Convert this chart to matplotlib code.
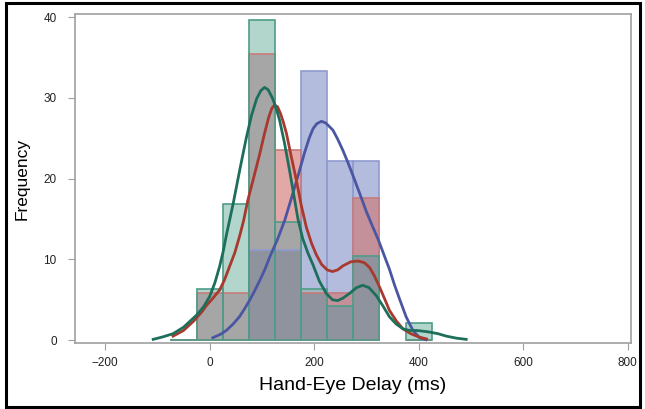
import matplotlib
matplotlib.use("Agg")
import matplotlib.pyplot as plt
from matplotlib.patches import Rectangle

plt.rcParams['font.family'] = ['Liberation Sans', 'DejaVu Sans']

# histogram bins (centres, width 50 ms)
bins = [-50, 0, 50, 100, 150, 200, 250, 300, 400]
green = [0, 6.3, 16.8, 39.7, 14.6, 6.3, 4.2, 10.4, 2.1]
red = [0, 5.9, 5.9, 35.4, 23.5, 5.9, 5.9, 17.6, 0]
blue = [0, 0, 0, 11.2, 11.2, 33.3, 22.2, 22.2, 0]

# density curves
green_x = [-108, -90, -70, -50, -25, -12, 0, 10, 19, 26, 32, 45, 58, 70, 80, 90, 98, 105,
           112, 120, 127, 134, 143, 153, 161, 169, 178, 188, 198, 210, 223, 235, 245, 255,
           268, 281, 293, 305, 319, 332, 344, 357, 370, 383, 396, 410, 421, 437, 453, 472, 491]
green_y = [0.1, 0.4, 0.8, 1.6, 3.1, 4.1, 5.4, 7.1, 9.1, 11.0, 13.0, 16.9, 21.2, 25.0, 27.8,
           29.9, 30.9, 31.3, 31.0, 30.0, 28.8, 27.2, 24.5, 21.0, 18.0, 15.0, 12.6, 10.8, 9.3,
           7.3, 5.8, 5.0, 4.9, 5.2, 5.8, 6.5, 6.8, 6.5, 5.5, 4.2, 2.9, 2.0, 1.4, 1.2, 1.2, 1.1,
           1.0, 0.8, 0.5, 0.25, 0.1]
red_x = [-70, -50, -30, -15, -6, 5, 19, 28, 38, 48, 57, 65, 73, 85, 96, 105, 113, 119, 124,
         130, 136, 141, 147, 156, 166, 175, 185, 195, 204, 214, 225, 235, 245, 255, 270, 284,
         296, 306, 315, 325, 335, 344, 357, 370, 385, 400, 415]
red_y = [0.5, 1.2, 2.4, 3.5, 4.3, 5.1, 6.2, 7.4, 9.1, 10.8, 12.8, 14.8, 17.3, 20.3, 23.1,
         25.6, 27.6, 28.7, 29.1, 28.9, 28.0, 27.0, 25.6, 22.8, 19.8, 16.8, 14.0, 12.0, 10.6,
         9.4, 8.7, 8.5, 8.7, 9.2, 9.7, 9.8, 9.6, 9.0, 8.0, 6.6, 5.1, 3.7, 2.4, 1.4, 0.8, 0.4,
         0.15]
blue_x = [6, 20, 32, 45, 57, 67, 77, 86, 96, 106, 115, 130, 144, 158, 172, 182, 191, 198,
          205, 214, 222, 230, 236, 245, 255, 264, 273, 287, 300, 311, 323, 334, 344, 354,
          364, 376, 389, 402, 414]
blue_y = [0.3, 0.7, 1.2, 2.0, 2.9, 3.9, 5.0, 6.1, 7.4, 8.8, 10.3, 12.5, 14.9, 17.9, 21.0,
          23.3, 25.1, 26.2, 26.8, 27.1, 26.9, 26.4, 26.0, 24.9, 23.5, 22.1, 20.6, 18.2, 15.9,
          14.2, 12.4, 10.5, 8.8, 6.8, 5.0, 2.9, 1.2, 0.3, 0.05]

fill = {
    frozenset('g'): '#b2d5cc',
    frozenset('r'): '#e4a7a7',
    frozenset('b'): '#b3bcdc',
    frozenset('rg'): '#a6a6a6',
    frozenset('bg'): '#a3b5bf',
    frozenset('br'): '#c4909a',
    frozenset('brg'): '#8e939d',
}

fig = plt.figure(figsize=(6.45, 4.09), dpi=100)
ax = fig.add_axes([0.116, 0.161, 0.862, 0.805])

series = {'g': green, 'r': red, 'b': blue}
# overlapping transparent bars: colour each layer by which series cover it
for i, c in enumerate(bins):
    hs = {k: v[i] for k, v in series.items()}
    levels = sorted(set([0] + list(hs.values())))
    for lo, hi in zip(levels[:-1], levels[1:]):
        cover = frozenset(k for k, h in hs.items() if h >= hi)
        ax.bar(c, hi - lo, bottom=lo, width=50, color=fill[cover], linewidth=0, zorder=1)

ax.bar(bins, blue, width=50, facecolor='none', edgecolor='#8f9bcf', linewidth=1.2, zorder=2)
ax.bar(bins, red, width=50, facecolor='none', edgecolor='#c77b7b', linewidth=1.2, zorder=2)
ax.bar(bins, green, width=50, facecolor='none', edgecolor='#4f9c88', linewidth=1.2, zorder=3)

ax.plot(blue_x, blue_y, color='#4b56a3', lw=2, zorder=4, solid_joinstyle='round')
ax.plot(red_x, red_y, color='#a8392e', lw=2, zorder=5, solid_joinstyle='round')
ax.plot(green_x, green_y, color='#1d6e5b', lw=2, zorder=6, solid_joinstyle='round')

ax.set_xlim(-258, 806)
ax.set_ylim(-0.37, 40.4)
ax.set_xticks([-200, 0, 200, 400, 600, 800])
ax.set_yticks([0, 10, 20, 30, 40])
for s in ax.spines.values():
    s.set_color('#a0a0a0')
    s.set_linewidth(1.2)
ax.tick_params(axis='both', colors='#a0a0a0', labelcolor='#222222', labelsize=8.5, length=5)
ax.tick_params(axis='y', pad=8)
ax.tick_params(axis='x', pad=5)
ax.set_xlabel('Hand-Eye Delay (ms)', fontsize=14, labelpad=6)
ax.set_ylabel('Frequency', fontsize=12.5, labelpad=10)

fig.patches.append(Rectangle((0.009, 0.006), 0.984, 0.986, transform=fig.transFigure,
                             fill=False, edgecolor='black', linewidth=2.2))

fig.savefig('out.png', dpi=100)
